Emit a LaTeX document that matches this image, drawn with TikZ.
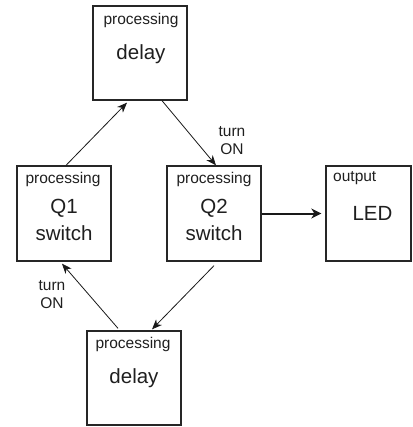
\documentclass[tikz,border=0pt]{standalone}
\usepackage{fontspec}
\setmainfont{Liberation Sans}
\usetikzlibrary{arrows.meta}
\tikzset{
  box/.style={draw=black!85, line width=1.3pt, inner sep=0pt},
  small/.style={font=\fontsize{15.5}{18}\selectfont, text=black!88, inner sep=0pt, anchor=base, align=center},
  big/.style={font=\fontsize{20.5}{26}\selectfont, text=black!88, inner sep=0pt, anchor=base, align=center},
  conn/.style={draw=black!90, line width=0.8pt, -{Stealth[length=10pt,width=8pt,inset=3pt]}},
  thickconn/.style={draw=black!90, line width=2pt, -{Stealth[length=10pt,width=10pt,inset=3pt]}}
}
\begin{document}
\begin{tikzpicture}[x=1pt,y=-1pt]
\useasboundingbox (0,0) rectangle (412,427);
% boxes
\node[box, minimum width=94pt, minimum height=94pt] (D1) at (140,53) {};
\node[box, minimum width=94pt, minimum height=95pt] (Q1) at (64,213.5) {};
\node[box, minimum width=94pt, minimum height=95pt] (Q2) at (214,213.5) {};
\node[box, minimum width=85pt, minimum height=95pt] (LED) at (368.5,213.5) {};
\node[box, minimum width=94pt, minimum height=94pt] (D2) at (134,378) {};
% texts
\node[small] (D1p) at (141,25) {processing};
\node[big] (D1t) at (141,60) {delay};
\node[small] (Q1p) at (63,184) {processing};
\node[big] (Q1t) at (64,240) {Q1\\switch};
\node[small] (Q2p) at (214,184) {processing};
\node[big] (Q2t) at (214,240) {Q2\\switch};
\node[small, anchor=base west] (LEDp) at (333,182) {output};
\node[big] (LEDt) at (372.5,220) {LED};
\node[small] (D2p) at (133,348) {processing};
\node[big] (D2t) at (134,383) {delay};
% labels
\node[small] (L1) at (232,155) {turn\\ON};
\node[small] (L2) at (52,308) {turn\\ON};
% connectors
\draw[conn] ([xshift=2pt]Q1.north) -- ([xshift=-13pt,yshift=-2pt]D1.south);
\draw[conn] ([xshift=22pt]D1.south) -- ([xshift=2pt]Q2.north);
\draw[thickconn, shorten >=4pt] (Q2.east) -- (LED.west);
\draw[conn] ([yshift=-4pt]Q2.south) -- ([xshift=18pt,yshift=1pt]D2.north);
\draw[conn] ([xshift=-16pt,yshift=2pt]D2.north) -- ([xshift=-2pt,yshift=-2pt]Q1.south);
\end{tikzpicture}
\end{document}
